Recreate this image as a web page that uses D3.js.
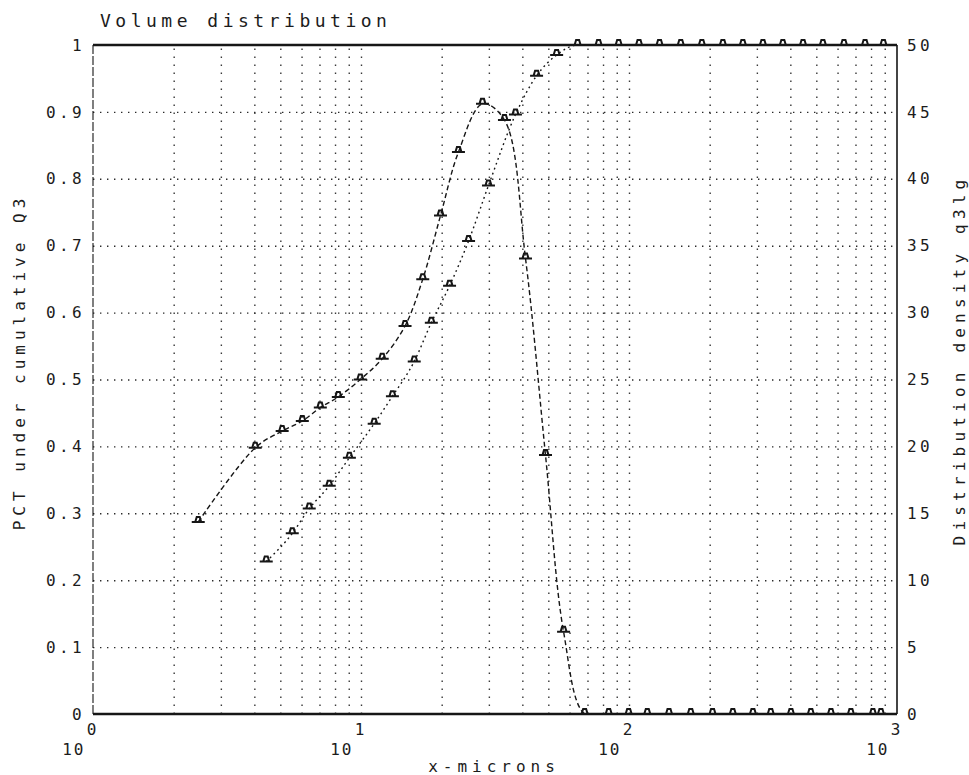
<!DOCTYPE html>
<html><head><meta charset="utf-8">
<script src="https://cdn.jsdelivr.net/npm/d3@7"></script>
<style>
html,body{margin:0;padding:0;background:#fff;}
svg text{font-family:"DejaVu Sans Mono",monospace;fill:#1c1c1c;}
</style></head><body>
<svg id="chart" width="969" height="775"></svg>
<script>
// Particle size analysis: volume distribution.
// Density q3lg (right axis) plotted at class centres, cumulative Q3 (left axis) at class upper limits.
const densitySizes = [2.47, 4.03, 5.08, 6.04, 7.05, 8.23, 9.94, 12.0, 14.6, 17.0, 19.8, 23.1, 28.4, 34.3, 41.1, 48.8, 57.0, 68.3,
  84.0, 99.7, 117, 141, 170, 205, 244, 290, 338, 402, 477, 567, 673, 813, 871];
const densityValues = [14.35, 19.9, 21.15, 21.9, 22.9, 23.7, 25.0, 26.55, 29.0, 32.5, 37.25, 42.0, 45.6, 44.4, 34.05, 19.35, 6.15, 0,
  0, 0, 0, 0, 0, 0, 0, 0, 0, 0, 0, 0, 0, 0, 0];
const cumulativeSizes = [4.43, 5.54, 6.41, 7.61, 9.05, 11.2, 13.1, 15.8, 18.3, 21.4, 25.2, 29.9, 37.7, 45.2, 53.7, 64.3,
  77.0, 91.5, 109, 130, 156, 187, 224, 266, 316, 375, 446, 529, 634, 760, 890];
const cumulativeValues = [0.228, 0.270, 0.307, 0.341, 0.383, 0.434, 0.475, 0.527, 0.585, 0.640, 0.707, 0.790, 0.896, 0.954, 0.985, 1.0,
  1.0, 1.0, 1.0, 1.0, 1.0, 1.0, 1.0, 1.0, 1.0, 1.0, 1.0, 1.0, 1.0, 1.0, 1.0];

const leftTickValues = [0, 0.1, 0.2, 0.3, 0.4, 0.5, 0.6, 0.7, 0.8, 0.9, 1];
const leftTickLabels = ["0", "0.1", "0.2", "0.3", "0.4", "0.5", "0.6", "0.7", "0.8", "0.9", "1"];
const rightTickValues = [0, 5, 10, 15, 20, 25, 30, 35, 40, 45, 50];
const decadeExponents = [0, 1, 2, 3];

const titleText = "Volume distribution";
const xTitle = "x-microns";
const leftTitle = "PCT under cumulative Q3";
const rightTitle = "Distribution density q3lg";

const svg = d3.select("#chart");
const L = 93, R = 897, T = 45, B = 714;

const x = d3.scaleLog().domain([1, 1000]).range([L, R]);
const yCum = d3.scaleLinear().domain([0, 1]).range([B, T]);
const yDen = d3.scaleLinear().domain([0, 50]).range([B, T]);

const ink = "#161616";

// dotted grid: every log subdivision vertically, every 0.1 horizontally
const gridV = x.ticks().filter(v => v > 1 && v < 1000);
svg.append("g").attr("transform", `translate(0,${B})`)
  .call(d3.axisBottom(x).tickValues(gridV).tickSize(-(B - T)).tickFormat(""))
  .call(g => g.select(".domain").remove())
  .selectAll("line")
  .attr("stroke", "#3a3a3a").attr("stroke-width", 1.4).attr("stroke-dasharray", "1.4,6.6");

svg.append("g").attr("transform", `translate(${L},0)`)
  .call(d3.axisLeft(yCum).tickValues(leftTickValues.filter(v => v > 0 && v < 1)).tickSize(-(R - L)).tickFormat(""))
  .call(g => g.select(".domain").remove())
  .selectAll("line")
  .attr("stroke", "#2a2a2a").attr("stroke-width", 1.4).attr("stroke-dasharray", "1.4,5.6");

// frame
const frame = svg.append("g").attr("fill", "none").attr("stroke", ink);
frame.append("line").attr("x1", L).attr("x2", R).attr("y1", yCum(1)).attr("y2", yCum(1)).attr("stroke-width", 2.4);
frame.append("line").attr("x1", L).attr("x2", R).attr("y1", yCum(0)).attr("y2", yCum(0)).attr("stroke-width", 2.4);
frame.append("line").attr("x1", L).attr("x2", L).attr("y1", T).attr("y2", B).attr("stroke-width", 1.1).attr("stroke-dasharray", "9,2");
frame.append("line").attr("x1", R).attr("x2", R).attr("y1", T).attr("y2", B).attr("stroke-width", 1.6);

// tick labels
const tickFont = g => g.selectAll("text")
  .attr("font-size", 16).attr("letter-spacing", "3.4px").attr("fill", ink);

svg.append("g").attr("transform", `translate(${L},0)`)
  .call(d3.axisLeft(yCum).tickValues(leftTickValues).tickSize(0).tickPadding(8)
    .tickFormat((d, i) => leftTickLabels[i]))
  .call(g => g.select(".domain").remove())
  .call(tickFont);

svg.append("g").attr("transform", `translate(${R},0)`)
  .call(d3.axisRight(yDen).tickValues(rightTickValues).tickSize(0).tickPadding(10))
  .call(g => g.select(".domain").remove())
  .call(tickFont);

// decade labels 10^n
const decades = decadeExponents.map(e => Math.pow(10, e));
const xAxis = svg.append("g").attr("transform", `translate(0,${B})`)
  .call(d3.axisBottom(x).tickValues(decades).tickSize(0).tickFormat(""))
  .call(g => g.select(".domain").remove());
xAxis.selectAll(".tick").each(function (d, i) {
  const t = d3.select(this);
  t.append("text").text("10")
    .attr("x", -8).attr("y", 41).attr("text-anchor", "end")
    .attr("font-size", 16).attr("letter-spacing", "2px").attr("fill", ink);
  t.append("text").text(String(decadeExponents[i]))
    .attr("x", -2).attr("y", 21).attr("text-anchor", "middle")
    .attr("font-size", 16).attr("fill", ink);
});

// titles
svg.append("text").text(titleText)
  .attr("x", 100).attr("y", 27).attr("font-size", 18).attr("letter-spacing", "4.5px");
svg.append("text").text(xTitle)
  .attr("x", 494).attr("y", 772).attr("text-anchor", "middle")
  .attr("font-size", 16).attr("letter-spacing", "5px");
svg.append("text").text(leftTitle)
  .attr("transform", "translate(25,362) rotate(-90)").attr("text-anchor", "middle")
  .attr("font-size", 16).attr("letter-spacing", "5px");
svg.append("text").text(rightTitle)
  .attr("transform", "translate(965,360) rotate(-90)").attr("text-anchor", "middle")
  .attr("font-size", 16).attr("letter-spacing", "5.2px");

// curves
svg.append("defs").append("clipPath").attr("id", "plotClip")
  .append("rect").attr("x", L).attr("y", T - 2).attr("width", R - L).attr("height", B - T + 3);

const densityPts = densitySizes.map((s, i) => [s, densityValues[i]]);
const cumulativePts = cumulativeSizes.map((s, i) => [s, cumulativeValues[i]]);

const plot = svg.append("g").attr("clip-path", "url(#plotClip)");

plot.append("path").datum(densityPts)
  .attr("fill", "none").attr("stroke", ink).attr("stroke-width", 1.4).attr("stroke-dasharray", "5,3")
  .attr("d", d3.line().x(d => x(d[0])).y(d => yDen(d[1])).curve(d3.curveCatmullRom.alpha(0.5)));

plot.append("path").datum(cumulativePts)
  .attr("fill", "none").attr("stroke", ink).attr("stroke-width", 1.4).attr("stroke-dasharray", "1.8,3.4")
  .attr("d", d3.line().x(d => x(d[0])).y(d => yCum(d[1])).curve(d3.curveMonotoneX));

// point markers: base bar with a small cap
const markerPath = "M-6.5,0H6.5M-3,0L-1.5,-5H1.5L3,0";
const markers = svg.append("g").attr("fill", "none").attr("stroke", ink).attr("stroke-width", 2);
markers.selectAll(".mden").data(densityPts).join("path")
  .attr("class", "mden")
  .attr("transform", d => `translate(${x(d[0])},${yDen(d[1])})`)
  .attr("d", markerPath);
markers.selectAll(".mcum").data(cumulativePts).join("path")
  .attr("class", "mcum")
  .attr("transform", d => `translate(${x(d[0])},${yCum(d[1])})`)
  .attr("d", markerPath);
</script>
</body></html>
